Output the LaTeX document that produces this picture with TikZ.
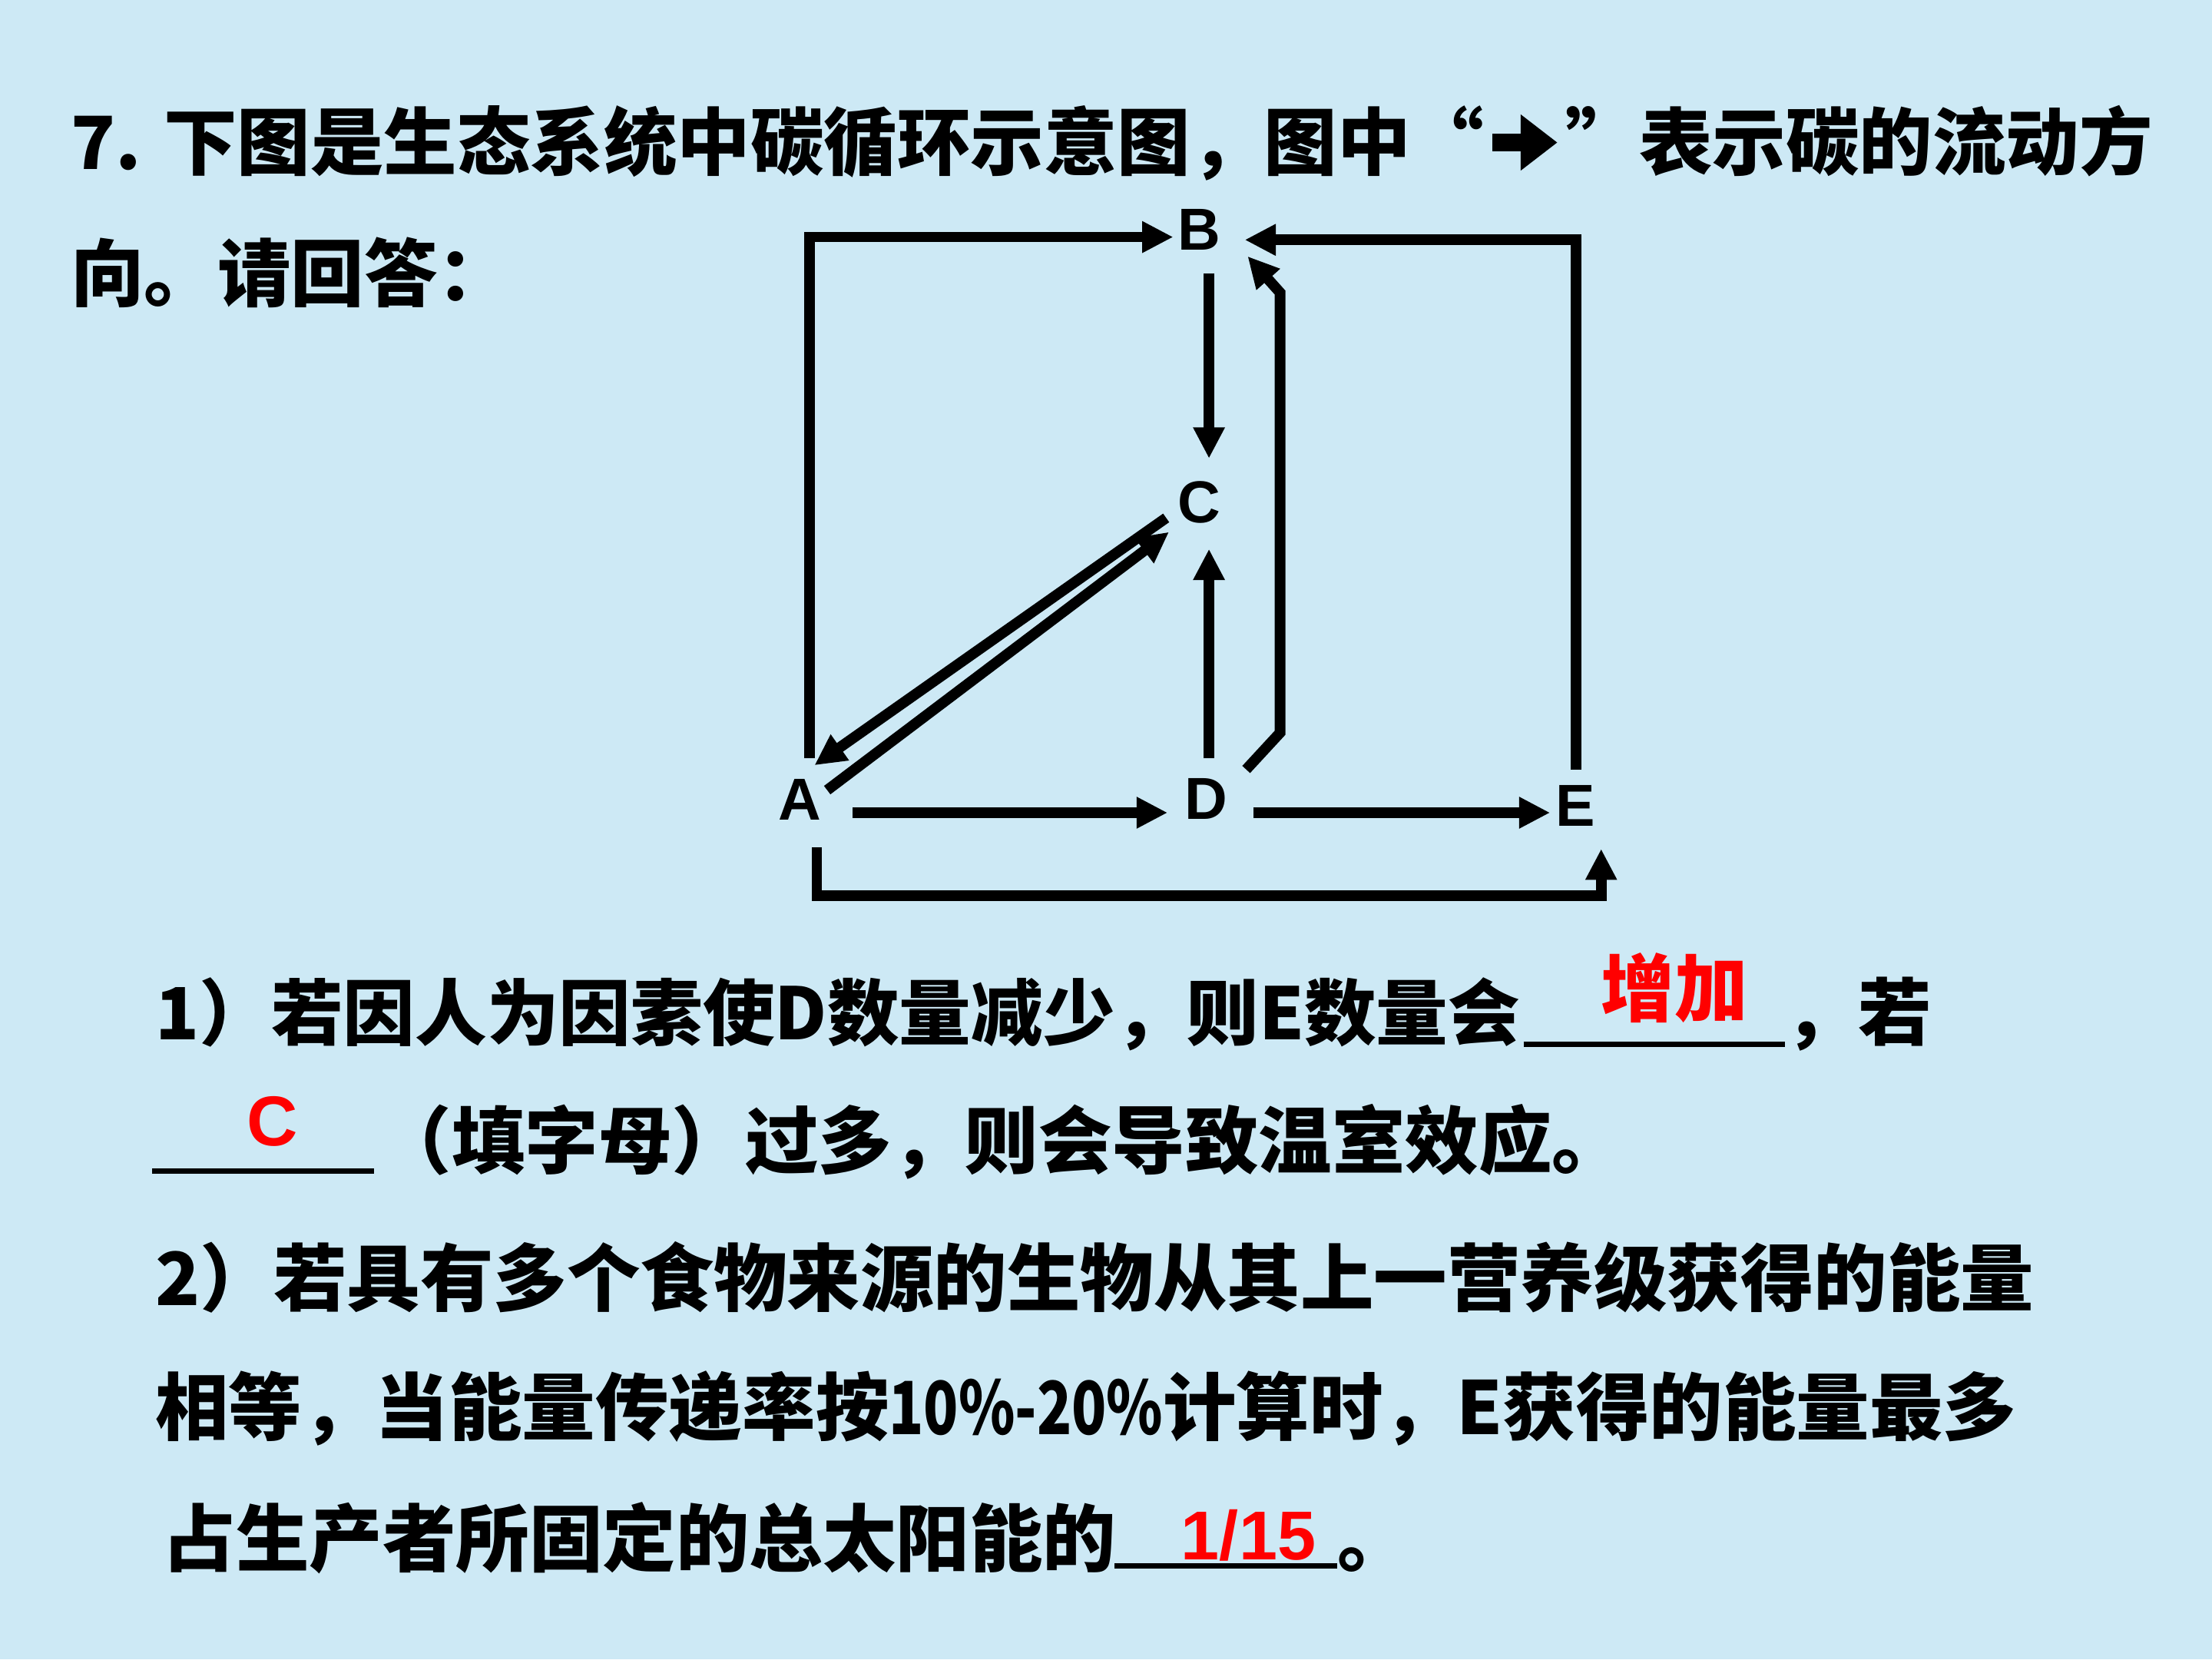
\documentclass[tikz,border=0pt]{standalone}
\usepackage{fontspec}
\newfontfamily\cjk{Noto Sans CJK SC}
\newfontfamily\lat{Liberation Sans}
\usetikzlibrary{arrows.meta}
\usetikzlibrary{calc}
\usetikzlibrary{positioning}
\definecolor{bgblue}{RGB}{205,233,245}
\definecolor{ansred}{RGB}{255,0,0}
\newcommand{\flowsign}{\tikz[baseline={(0,-19pt)}]\draw[line width=12pt,-{Triangle[length=26pt,width=38pt]}] (0,0) -- (46pt,0);}

\begin{document}
\begin{tikzpicture}[x=1pt,y=1pt,
      flow/.style={-{Triangle[length=22pt,width=21pt]},line width=7.5pt},
      lbl/.style={font={\lat\bfseries\fontsize{42}{42}\selectfont},inner sep=3pt},
      txt/.style={font={\cjk\bfseries\fontsize{52}{52}\selectfont},inner sep=0pt,anchor=base west},
      ans/.style={text=ansred,inner sep=0pt},
      blank/.style={line width=4pt},
  ]
  % Background
  \fill[bgblue] (0,0) rectangle (1568,-1176);
  \useasboundingbox (0,0) rectangle (1568,-1176);

  % Question
  \node[txt] (q1) at (50,-120) {7. 下图是生态系统中碳循环示意图，图中“\flowsign”表示碳的流动方};
  \node[txt] (q2) at (50,-213) {向。请回答：};

  % Carbon cycle
  \node[lbl] (B) at (850,-163) {B};
  \node[lbl] (C) at (850,-356) {C};
  \node[lbl] (A) at (567,-567) {A};
  \node[lbl] (D) at (855,-566) {D};
  \node[lbl] (E) at (1117,-571) {E};

  \draw[flow] ([xshift=7pt,yshift=12pt]A.north) |- ([yshift=-5pt]B.west);
  \draw[flow] ([yshift=8pt]E.north) |- ([xshift=14pt,yshift=-7pt]B.east);
  \draw[flow] ([xshift=7pt,yshift=-13pt]B.south) -- ([xshift=7pt,yshift=13pt]C.north);
  \draw[flow] ([xshift=2pt,yshift=11pt]D.north) -- ([xshift=7pt,yshift=-15pt]C.south);
  \draw[flow] ([xshift=10pt,yshift=3pt]D.north east) -- ++(24,26) -- ++(0,312) -- ([xshift=16pt,yshift=-1pt]B.south east);
  \draw[flow] ([xshift=-5pt,yshift=7pt]C.south west) -- ([xshift=-8pt,yshift=7pt]A.north east);
  \draw[flow] ([xshift=1pt,yshift=7pt]A.east) -- ([xshift=-3pt,yshift=-3pt]C.south west);
  \draw[flow] ([xshift=19pt,yshift=-9pt]A.east) -- ([xshift=-9pt,yshift=-10pt]D.west);
  \draw[flow] ([xshift=15pt,yshift=-10pt]D.east) -- ([xshift=-1pt,yshift=-5pt]E.west);
  \draw[flow] ([xshift=12pt,yshift=-16pt]A.south) -- ++(0,-34) -| ([xshift=18pt,yshift=-13pt]E.south);

  % 1)
  \node[txt,font={\cjk\bfseries\fontsize{51}{51}\selectfont}] (p1) at (110,-737) {1）若因人为因素使D数量减少，则E数量会};
  \draw[blank] (1080,-740) coordinate (u1l) -- (1265,-740) coordinate (u1r);
  \node[txt] (p1b) at (1265,-737) {，若};
  \node[ans,font={\cjk\bfseries\fontsize{52}{52}\selectfont}] (a1) at (1187,-700) {增加};

  \draw[blank] (108,-830) coordinate (u2l) -- (265,-830) coordinate (u2r);
  \node[ans,font={\lat\bfseries\fontsize{50}{50}\selectfont}] (a2) at (193,-795) {C};
  \node[txt] (p2) at (268,-828) {（填字母）过多，则会导致温室效应。};

  % 2)
  \node[txt] (p3) at (110,-925) {2）若具有多个食物来源的生物从其上一营养级获得的能量};
  \node[txt] (p4) at (110,-1017) {相等，当能量传递率按\scalebox{0.78}[1]{10\%-20\%}计算时，E获得的能量最多};
  \node[txt] (p5) at (115,-1110) {占生产者所固定的总太阳能的};
  \draw[blank] (790,-1110) coordinate (u3l) -- (948,-1110) coordinate (u3r);
  \node[txt] (p5b) at (948,-1110) {。};
  \node[ans,font={\lat\bfseries\fontsize{49}{49}\selectfont}] (a3) at (885,-1088) {1/15};
\end{tikzpicture}
\end{document}
